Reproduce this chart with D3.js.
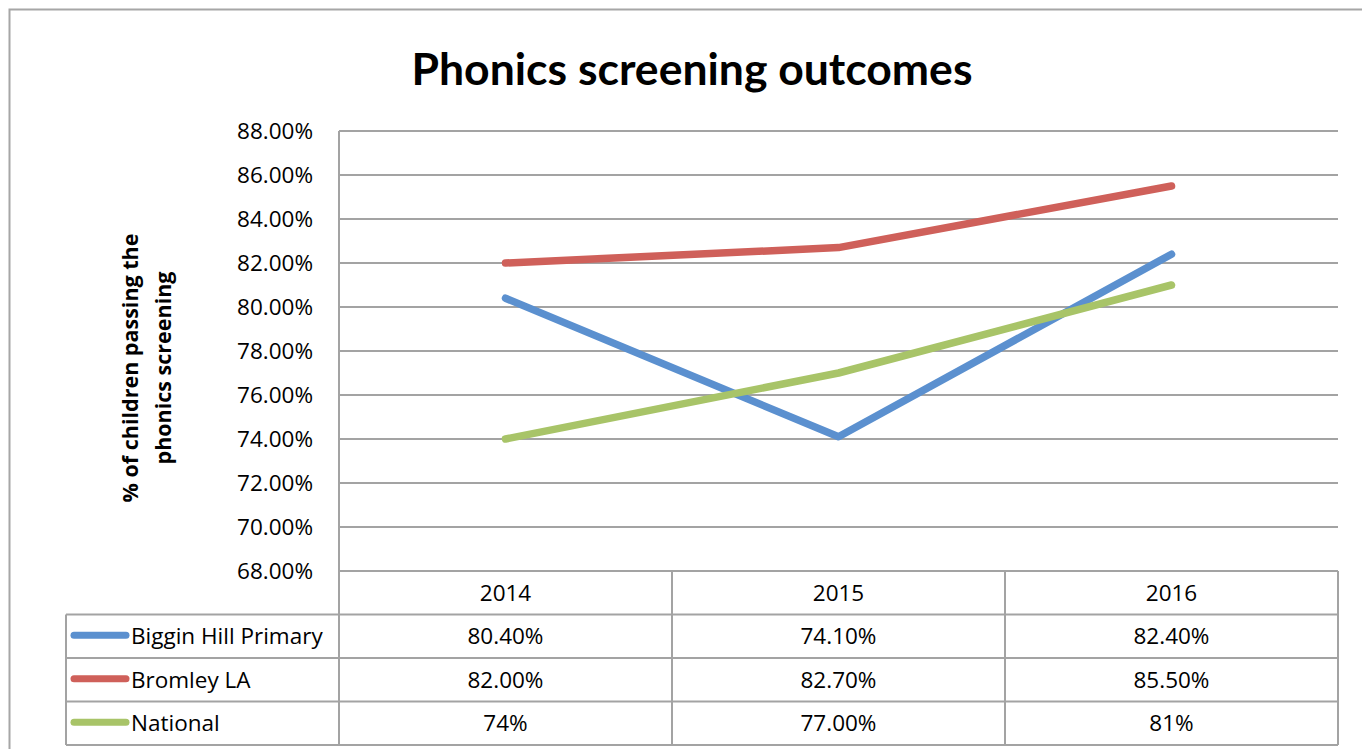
<!DOCTYPE html>
<html>
<head>
<meta charset="utf-8">
<script src="https://cdn.jsdelivr.net/npm/d3@7"></script>
<style>
  body { margin: 0; background: #fff; }
  svg { display: block; font-family: "Open Sans", Lato, sans-serif; }
</style>
</head>
<body>
<script>
// data
var years = ["2014", "2015", "2016"];
var seriesNames = ["Biggin Hill Primary", "Bromley LA", "National"];
var bigginHill = [80.4, 74.1, 82.4];
var bromleyLA = [82.0, 82.7, 85.5];
var national = [74, 77, 81];
var bigginHillLabels = ["80.40%", "74.10%", "82.40%"];
var bromleyLALabels = ["82.00%", "82.70%", "85.50%"];
var nationalLabels = ["74%", "77.00%", "81%"];
var yTicks = [68, 70, 72, 74, 76, 78, 80, 82, 84, 86, 88];
var colors = ["#5b90cf", "#cf605a", "#a8c468"];

var series = [
  { name: seriesNames[0], values: bigginHill, labels: bigginHillLabels, color: colors[0] },
  { name: seriesNames[1], values: bromleyLA, labels: bromleyLALabels, color: colors[1] },
  { name: seriesNames[2], values: national, labels: nationalLabels, color: colors[2] }
];

var W = 1362, H = 749;
var plot = { left: 339, right: 1338, top: 131, bottom: 571 };
var rowH = 43.5, tableLeft = 66;
var gridColor = "#a3a3a3";
var labelSize = "22.5px";

var svg = d3.select("body").append("svg")
    .attr("width", W)
    .attr("height", H);

// outer chart border
svg.append("rect")
    .attr("x", 9.5).attr("y", 9.5)
    .attr("width", 1400).attr("height", 800)
    .attr("fill", "none")
    .attr("stroke", "#a6a6a6")
    .attr("stroke-width", 2);

// title
svg.append("text")
    .attr("x", 692).attr("y", 85)
    .attr("text-anchor", "middle")
    .style("font-family", "Lato, sans-serif")
    .style("font-weight", "bold")
    .style("font-size", "44.5px")
    .text("Phonics screening outcomes");

// scales
var x = d3.scaleBand().domain(years).range([plot.left, plot.right]);
var y = d3.scaleLinear().domain([68, 88]).range([plot.bottom, plot.top]);

// gridlines
svg.append("g").selectAll("line")
    .data(yTicks)
    .enter().append("line")
    .attr("x1", plot.left).attr("x2", plot.right)
    .attr("y1", function (d) { return y(d); })
    .attr("y2", function (d) { return y(d); })
    .attr("stroke", gridColor)
    .attr("stroke-width", 2);

// y axis
var yAxis = d3.axisLeft(y)
    .tickValues(yTicks)
    .tickSize(0)
    .tickPadding(26)
    .tickFormat(function (d) { return d.toFixed(2) + "%"; });

var gy = svg.append("g")
    .attr("transform", "translate(" + plot.left + ",0)")
    .call(yAxis);
gy.select(".domain").remove();
gy.selectAll("text")
    .style("font-family", "'Open Sans', sans-serif")
    .style("font-size", labelSize)
    .attr("fill", "#000");

// y axis title
var yTitle = svg.append("text")
    .attr("transform", "translate(147,368) rotate(-90)")
    .attr("text-anchor", "middle")
    .style("font-weight", "bold")
    .style("font-size", "21.5px");
yTitle.append("tspan").attr("x", 0).attr("dy", "-9").text("% of children passing the");
yTitle.append("tspan").attr("x", 0).attr("dy", "33").text("phonics screening");

// lines
var line = d3.line()
    .x(function (d, i) { return x(years[i]) + x.bandwidth() / 2; })
    .y(function (d) { return y(d); });

svg.append("g").selectAll("path")
    .data(series)
    .enter().append("path")
    .attr("d", function (d) { return line(d.values); })
    .attr("fill", "none")
    .attr("stroke", function (d) { return d.color; })
    .attr("stroke-width", 7.5)
    .attr("stroke-linecap", "round")
    .attr("stroke-linejoin", "round");

// data table
var table = svg.append("g");
var tableBottom = plot.bottom + rowH * 4;

// horizontal lines
table.append("line")
    .attr("x1", plot.left).attr("x2", plot.right)
    .attr("y1", plot.bottom).attr("y2", plot.bottom)
    .attr("stroke", gridColor).attr("stroke-width", 2);
d3.range(1, 5).forEach(function (r) {
  table.append("line")
      .attr("x1", tableLeft).attr("x2", plot.right)
      .attr("y1", plot.bottom + rowH * r).attr("y2", plot.bottom + rowH * r)
      .attr("stroke", gridColor).attr("stroke-width", 2);
});

// vertical lines
table.append("line")
    .attr("x1", plot.left).attr("x2", plot.left)
    .attr("y1", plot.top).attr("y2", tableBottom)
    .attr("stroke", gridColor).attr("stroke-width", 2);
table.append("line")
    .attr("x1", tableLeft).attr("x2", tableLeft)
    .attr("y1", plot.bottom + rowH).attr("y2", tableBottom)
    .attr("stroke", gridColor).attr("stroke-width", 2);
years.forEach(function (yr) {
  var xr = x(yr) + x.bandwidth();
  table.append("line")
      .attr("x1", xr).attr("x2", xr)
      .attr("y1", plot.bottom).attr("y2", tableBottom)
      .attr("stroke", gridColor).attr("stroke-width", 2);
});

// header
table.selectAll("text.year")
    .data(years)
    .enter().append("text")
    .attr("class", "year")
    .attr("x", function (d) { return x(d) + x.bandwidth() / 2; })
    .attr("y", plot.bottom + rowH / 2 + 8)
    .attr("text-anchor", "middle")
    .style("font-size", labelSize)
    .text(function (d) { return d; });

// rows
series.forEach(function (s, r) {
  var cy = plot.bottom + rowH * (r + 1) + rowH / 2;
  table.append("line")
      .attr("x1", 74).attr("x2", 126)
      .attr("y1", cy - 1).attr("y2", cy - 1)
      .attr("stroke", s.color)
      .attr("stroke-width", 7)
      .attr("stroke-linecap", "round");
  table.append("text")
      .attr("x", 131).attr("y", cy + 8)
      .style("font-size", labelSize)
      .text(s.name);
  table.selectAll("text.v" + r)
      .data(s.labels)
      .enter().append("text")
      .attr("class", "v" + r)
      .attr("x", function (d, i) { return x(years[i]) + x.bandwidth() / 2; })
      .attr("y", cy + 8)
      .attr("text-anchor", "middle")
      .style("font-size", labelSize)
      .text(function (d) { return d; });
});
</script>
</body>
</html>
